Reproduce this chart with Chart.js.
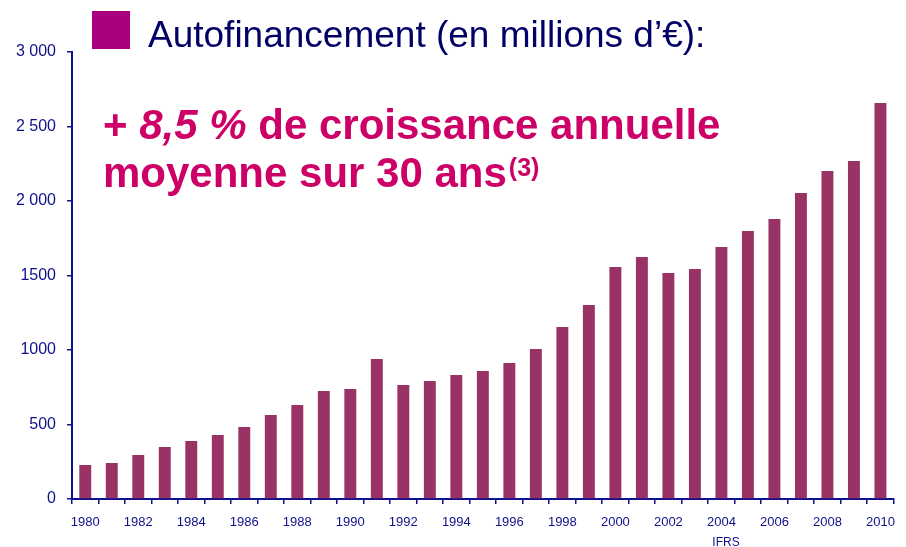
<!DOCTYPE html>
<html>
<head>
<meta charset="utf-8">
<script src="https://cdn.jsdelivr.net/npm/chart.js@4/dist/chart.umd.min.js"></script>
<style>
  html, body { margin: 0; padding: 0; background: #fff; }
  canvas { display: block; }
</style>
</head>
<body>
<canvas id="chart" width="906" height="547"></canvas>
<script>
const years = ['1980', '1981', '1982', '1983', '1984', '1985', '1986', '1987', '1988', '1989',
  '1990', '1991', '1992', '1993', '1994', '1995', '1996', '1997', '1998', '1999',
  '2000', '2001', '2002', '2003', '2004', '2005', '2006', '2007', '2008', '2009', '2010'];
// autofinancement, millions d'euros
const autofinancement = [228, 242, 295, 349, 389, 430, 483, 564, 631, 725,
  738, 940, 765, 792, 832, 859, 913, 1007, 1154, 1302,
  1557, 1624, 1517, 1544, 1691, 1799, 1879, 2054, 2201, 2268, 2658];
const yTickValues = [0, 500, 1000, 1500, 2000, 2500, 3000];
const yTickLabels = ['0', '500', '1000', '1500', '2 000', '2 500', '3 000'];

const NAVY = '#10108a';
const FONT = "'Liberation Sans', Arial, sans-serif";

const headerPlugin = {
  id: 'header',
  afterDraw(chart) {
    const ctx = chart.ctx;
    ctx.save();
    // legend square + title
    ctx.fillStyle = '#a8007f';
    ctx.fillRect(92, 11, 38, 38);
    ctx.fillStyle = '#000066';
    ctx.font = '37px ' + FONT;
    ctx.textBaseline = 'alphabetic';
    ctx.textAlign = 'left';
    ctx.fillText('Autofinancement (en millions d\u2019\u20ac):', 148, 47);

    // growth statement
    ctx.fillStyle = '#cc0066';
    let x = 103;
    const parts = [
      ['bold 42px ', '+ '],
      ['italic bold 42px ', '8,5 %'],
      ['bold 42px ', ' de croissance annuelle']
    ];
    parts.forEach(([f, t]) => {
      ctx.font = f + FONT;
      ctx.fillText(t, x, 139);
      x += ctx.measureText(t).width;
    });
    ctx.font = 'bold 42px ' + FONT;
    const line2 = 'moyenne sur 30 ans';
    ctx.fillText(line2, 103, 187);
    const w2 = ctx.measureText(line2).width;
    ctx.font = 'bold 25px ' + FONT;
    ctx.fillText('(3)', 103 + w2 + 2, 176);

    // IFRS note under the 2004 label
    ctx.fillStyle = NAVY;
    ctx.font = '12px ' + FONT;
    ctx.textAlign = 'center';
    ctx.textBaseline = 'top';
    ctx.fillText('IFRS', 726, 537);
    ctx.restore();
  }
};

new Chart(document.getElementById('chart'), {
  type: 'bar',
  data: {
    labels: years,
    datasets: [{
      label: 'Autofinancement',
      data: autofinancement,
      backgroundColor: '#993366',
      borderWidth: 0,
      barPercentage: 0.45,
      categoryPercentage: 1
    }]
  },
  options: {
    responsive: false,
    animation: false,
    layout: { padding: { top: 52, right: 6, left: 0, bottom: 0 } },
    plugins: {
      legend: { display: false },
      tooltip: { enabled: false }
    },
    scales: {
      x: {
        grid: {
          offset: true,
          drawOnChartArea: false,
          tickLength: 5,
          color: NAVY,
          lineWidth: 1.5
        },
        border: { color: NAVY, width: 2 },
        ticks: {
          autoSkip: false,
          maxRotation: 0,
          padding: 11,
          color: NAVY,
          font: { family: FONT, size: 13 },
          callback: (v, i) => (i % 2 === 0 ? years[i] : '')
        },
        afterFit: (s) => { s.height = 48; }
      },
      y: {
        min: 0,
        max: 3000,
        grid: {
          drawOnChartArea: false,
          tickLength: 5,
          color: NAVY,
          lineWidth: 1.5
        },
        border: { color: NAVY, width: 2 },
        ticks: {
          stepSize: 500,
          padding: 11,
          color: NAVY,
          font: { family: FONT, size: 16 },
          callback: (v) => yTickLabels[yTickValues.indexOf(v)]
        },
        afterFit: (s) => { s.width = 72; }
      }
    }
  },
  plugins: [headerPlugin]
});
</script>
</body>
</html>
